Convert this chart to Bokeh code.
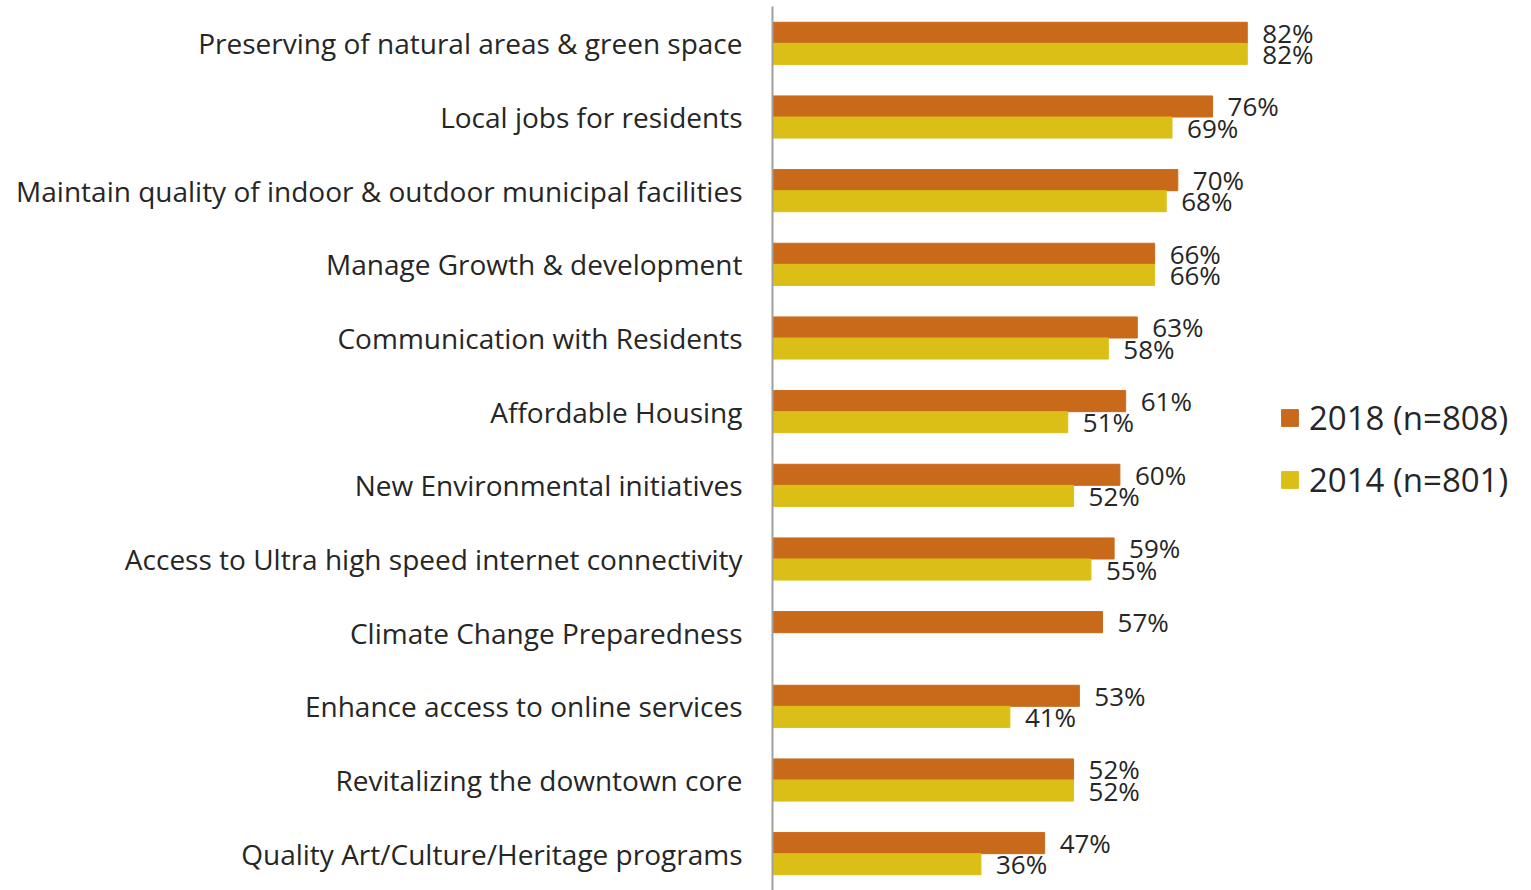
import math
from bokeh.plotting import figure
from bokeh.models import FactorRange, Legend, LegendItem, ColumnDataSource, Range1d
from bokeh.transform import dodge
from bokeh.core.properties import value
from bokeh.embed import file_html
from bokeh.resources import INLINE

categories = [
    "Preserving of natural areas & green space",
    "Local jobs for residents",
    "Maintain quality of indoor & outdoor municipal facilities",
    "Manage Growth & development",
    "Communication with Residents",
    "Affordable Housing",
    "New Environmental initiatives",
    "Access to Ultra high speed internet connectivity",
    "Climate Change Preparedness",
    "Enhance access to online services",
    "Revitalizing the downtown core",
    "Quality Art/Culture/Heritage programs",
]
v2018 = [82, 76, 70, 66, 63, 61, 60, 59, 57, 53, 52, 47]
v2014 = [82, 69, 68, 66, 58, 51, 52, 55, None, 41, 52, 36]
series_names = ["2018 (n=808)", "2014 (n=801)"]
colors = ["#C96A1B", "#DBBF17"]

FONT = "Open Sans"

src = ColumnDataSource(dict(
    cat=categories,
    v2018=v2018,
    v2014=[float("nan") if v is None else v for v in v2014],
    l2018=[f"{v}%" for v in v2018],
    l2014=["" if v is None else f"{v}%" for v in v2014],
))

p = figure(width=1531, height=890, y_range=FactorRange(*reversed(categories)),
           x_range=Range1d(0, (1531 - 772) / 5.79), output_backend="svg", toolbar_location=None,
           min_border_left=772, min_border_right=0, min_border_top=6, min_border_bottom=0)
p.outline_line_color = None
p.xgrid.grid_line_color = None
p.ygrid.grid_line_color = None
p.xaxis.visible = False
p.yaxis.axis_line_color = "#A0A0A0"
p.yaxis.axis_line_width = 2
p.yaxis.major_tick_line_color = None
p.yaxis.minor_tick_line_color = None
p.yaxis.major_tick_out = 0
p.yaxis.major_label_standoff = 30
p.yaxis.major_label_text_font = FONT
p.yaxis.major_label_text_font_size = "28px"
p.yaxis.major_label_text_color = "#262626"

off = 0.143
h = 0.286
r1 = p.hbar(y=dodge("cat", off, range=p.y_range), left=0, right="v2018", height=h,
            source=src, fill_color=colors[0], line_color=colors[0])
r2 = p.hbar(y=dodge("cat", -off, range=p.y_range), left=0, right="v2014", height=h,
            source=src, fill_color=colors[1], line_color=colors[1])

p.text(x="v2018", y=dodge("cat", off, range=p.y_range), text="l2018", source=src,
       x_offset=15, text_baseline="middle", text_align="left",
       text_font=value(FONT), text_font_size="26px", text_color="#262626")
p.text(x="v2014", y=dodge("cat", -off, range=p.y_range), text="l2014", source=src,
       x_offset=15, text_baseline="middle", text_align="left",
       text_font=value(FONT), text_font_size="26px", text_color="#262626")

legend = Legend(items=[LegendItem(label=series_names[0], renderers=[r1]),
                       LegendItem(label=series_names[1], renderers=[r2])],
                location=(507, 388), padding=0, margin=0, spacing=17,
                glyph_width=21, glyph_height=21, label_height=44, label_standoff=9,
                label_text_font=FONT, label_text_font_size="33px",
                label_text_color="#262626",
                border_line_color=None, background_fill_alpha=0)
p.add_layout(legend)

open("out.html", "w").write(file_html(p, INLINE))
